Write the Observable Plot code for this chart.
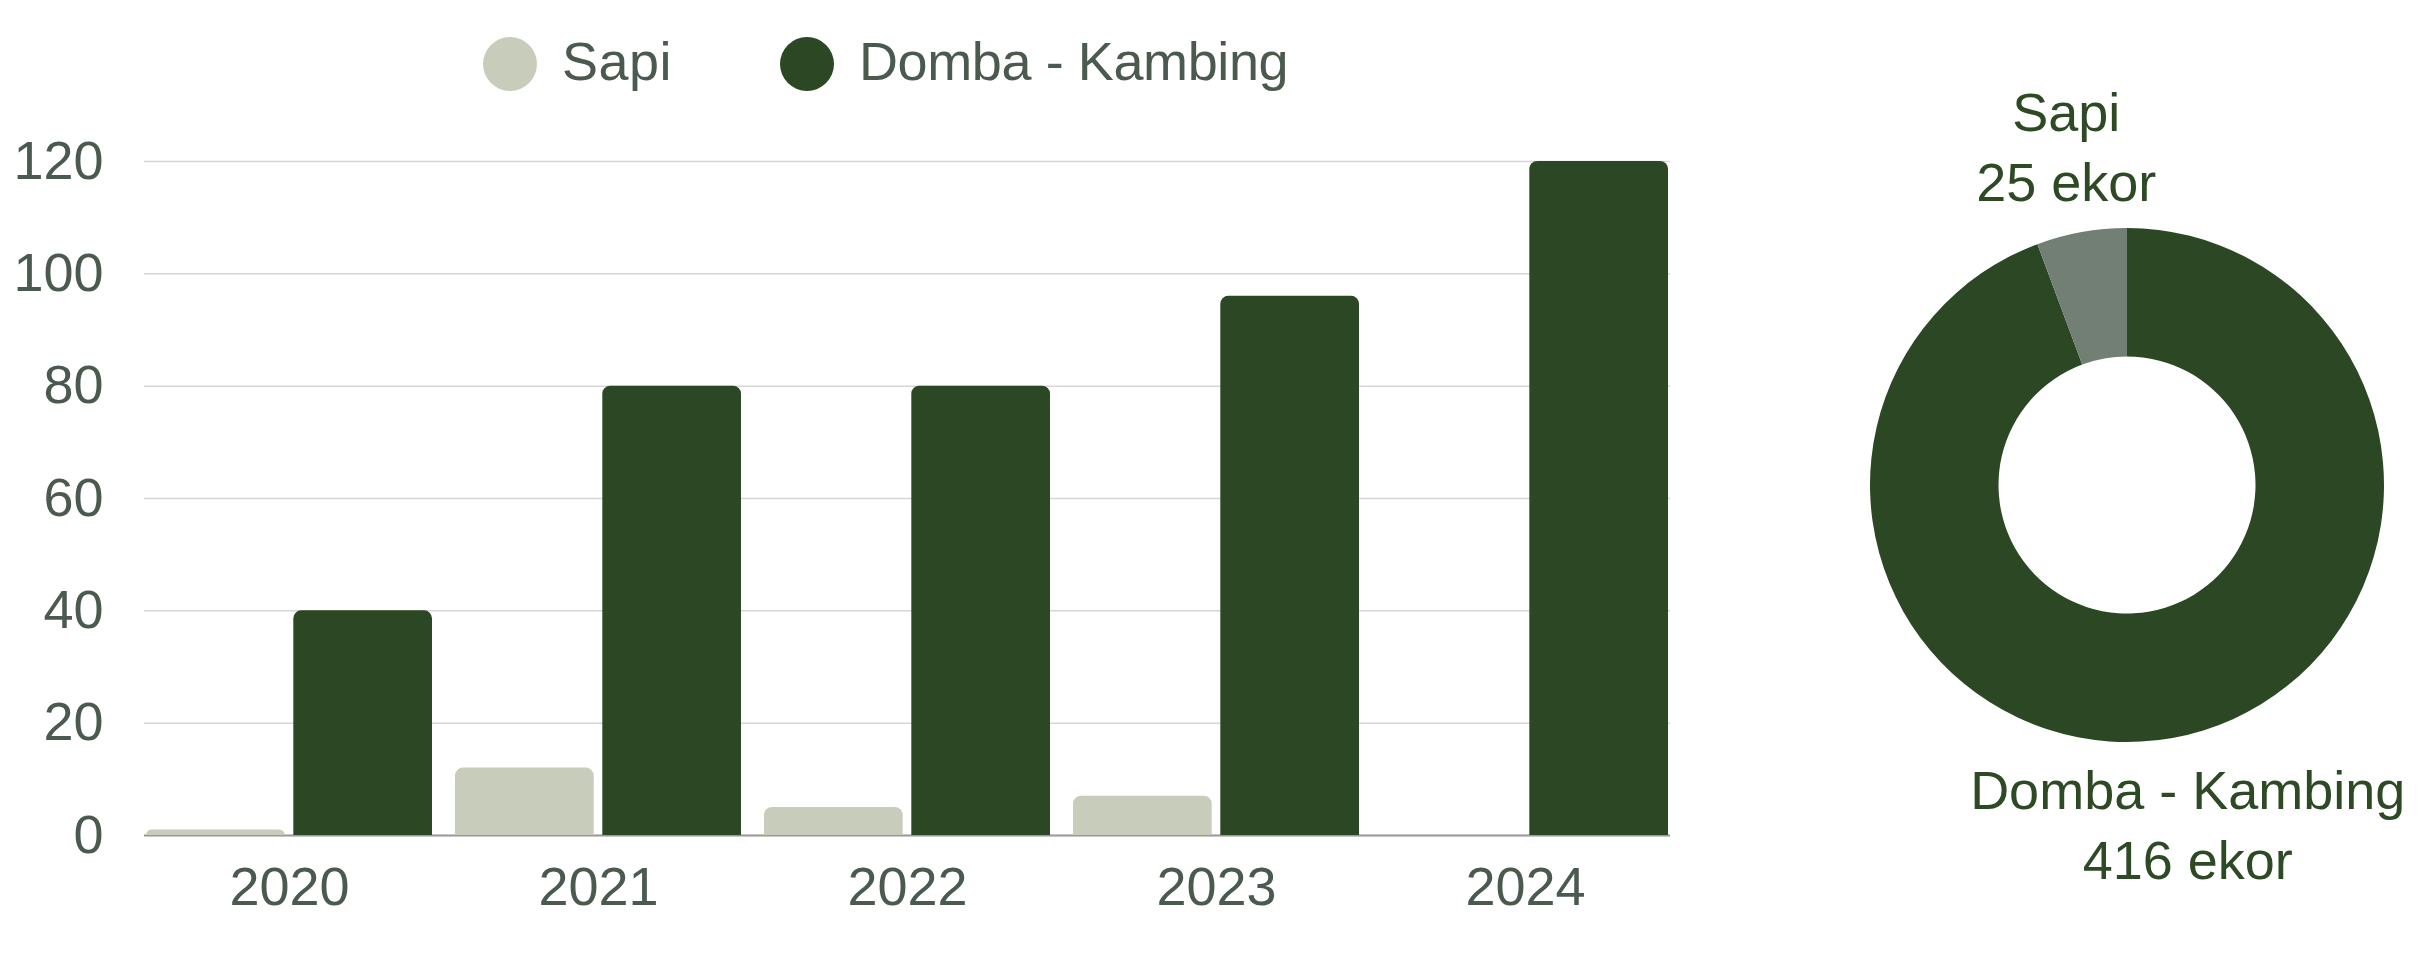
<!DOCTYPE html>
<html>
<head>
<meta charset="utf-8">
<script src="https://cdn.jsdelivr.net/npm/d3@7"></script>
<script src="https://cdn.jsdelivr.net/npm/@observablehq/plot@0.6"></script>
<style>
  html, body { margin: 0; padding: 0; background: #fff; }
  #root { position: relative; width: 2426px; height: 954px; overflow: hidden; font-family: "Liberation Sans", Arial, sans-serif; }
  .abs { position: absolute; }
  .legend-dot { position: absolute; width: 54px; height: 54px; border-radius: 50%; }
  .legend-text { position: absolute; font-size: 54px; line-height: 54px; color: #4b5a4e; white-space: pre; }
</style>
</head>
<body>
<div id="root"></div>
<script>
// ---------- data ----------
const years = ["2020", "2021", "2022", "2023", "2024"];
const sapi = [1, 12, 5, 7, 0];
const domba = [40, 80, 80, 96, 120];
const seriesNames = ["Sapi", "Domba - Kambing"];
const barColors = ["#c8ccbb", "#2c4724"];
const pieColors = ["#717f74", "#2c4724"];
const yTicks = [0, 20, 40, 60, 80, 100, 120];
const unitLabel = "ekor";

// ---------- layout ----------
const root = document.getElementById("root");
const textColor = "#4b5a4e";
const labelColor = "#2d4a25";

// legend
const legendPos = [{dot: 483, text: 562, spacing: "0.5px"}, {dot: 780, text: 859, spacing: "-0.4px"}];
seriesNames.forEach((name, i) => {
  const dot = document.createElement("div");
  dot.className = "legend-dot";
  dot.style.left = legendPos[i].dot + "px";
  dot.style.top = "37px";
  dot.style.background = barColors[i];
  root.appendChild(dot);
  const t = document.createElement("div");
  t.className = "legend-text";
  t.style.left = legendPos[i].text + "px";
  t.style.top = "34px";
  t.style.letterSpacing = legendPos[i].spacing;
  t.textContent = name;
  root.appendChild(t);
});

// bar chart
const barData = [];
years.forEach((y, i) => {
  barData.push({year: y, series: seriesNames[0], value: sapi[i]});
  barData.push({year: y, series: seriesNames[1], value: domba[i]});
});

const W = 1700, H = 854, mL = 144, mR = 30, mT = 61, mB = 119;
const padIn = 0.075, gap = 8;
const bw = (W - mL - mR) / (years.length - padIn) * (1 - padIn);
const inset = bw / 2 + gap / 2;

const bar = Plot.plot({
  width: W,
  height: H,
  marginLeft: mL,
  marginRight: mR,
  marginTop: mT,
  marginBottom: mB,
  style: {fontFamily: "Liberation Sans, Arial, sans-serif", fontSize: "54px", color: textColor, background: "transparent", overflow: "visible"},
  x: {domain: years, paddingInner: padIn, paddingOuter: 0, label: null},
  y: {domain: [0, 120], label: null},
  color: {domain: seriesNames, range: barColors},
  marks: [
    Plot.gridY(yTicks, {stroke: "#d6d6d6", strokeOpacity: 1, strokeWidth: 1.5}),
    Plot.ruleY([0], {stroke: "#9a9a9a", strokeWidth: 2}),
    Plot.barY(barData.filter(d => d.series === seriesNames[0]), {x: "year", y: "value", fill: "series", insetRight: inset, ry1: 8}),
    Plot.barY(barData.filter(d => d.series === seriesNames[1]), {x: "year", y: "value", fill: "series", insetLeft: inset, ry1: 8}),
    Plot.axisY(yTicks, {tickSize: 0, tickPadding: 41, label: null, fill: textColor}),
    Plot.axisX({tickSize: 0, tickPadding: 31, label: null, fill: textColor})
  ]
});
bar.classList.add("abs");
bar.style.left = "0px";
bar.style.top = "100px";
root.appendChild(bar);

// donut chart
const totals = [d3.sum(sapi), d3.sum(domba)];
const pieData = [
  {name: seriesNames[1], value: totals[1], color: pieColors[1]},
  {name: seriesNames[0], value: totals[0], color: pieColors[0]}
];
const arcs = d3.pie().sort(null).value(d => d.value)(pieData);
const innerRatio = 0.5;
const labelRadius = 1.125;
const labels = arcs.map(a => {
  const mid = (a.startAngle + a.endAngle) / 2;
  return {name: a.data.name, value: a.data.value, x: Math.sin(mid) * labelRadius, y: Math.cos(mid) * labelRadius, top: Math.cos(mid) < 0};
});

const PW = 676, PH = 954;
const donut = Plot.plot({
  width: PW,
  height: PH,
  marginLeft: 120,
  marginRight: 42,
  marginTop: 228,
  marginBottom: 212,
  style: {fontFamily: "Liberation Sans, Arial, sans-serif", fontSize: "54px", background: "transparent", overflow: "visible"},
  x: {domain: [-1, 1], axis: null},
  y: {domain: [-1, 1], axis: null},
  marks: [
    (index, scales) => {
      const cx = scales.x(0), cy = scales.y(0);
      const R = scales.x(1) - scales.x(0);
      const arc = d3.arc().innerRadius(R * innerRatio).outerRadius(R);
      const g = d3.create("svg:g").attr("transform", `translate(${cx},${cy})`);
      g.selectAll("path").data(arcs).join("path")
        .attr("d", arc)
        .attr("fill", d => d.data.color);
      return g.node();
    },
    Plot.text(labels.filter(d => !d.top), {x: "x", y: "y", text: d => `${d.name}\n${d.value} ${unitLabel}`, lineAnchor: "bottom", lineHeight: 1.3, fill: labelColor, dx: -10}),
    Plot.text(labels.filter(d => d.top), {x: "x", y: "y", text: d => `${d.name}\n${d.value} ${unitLabel}`, lineAnchor: "top", lineHeight: 1.3, fill: labelColor, dx: 9, dy: -11})
  ]
});
donut.classList.add("abs");
donut.style.left = "1750px";
donut.style.top = "0px";
root.appendChild(donut);
</script>
</body>
</html>
